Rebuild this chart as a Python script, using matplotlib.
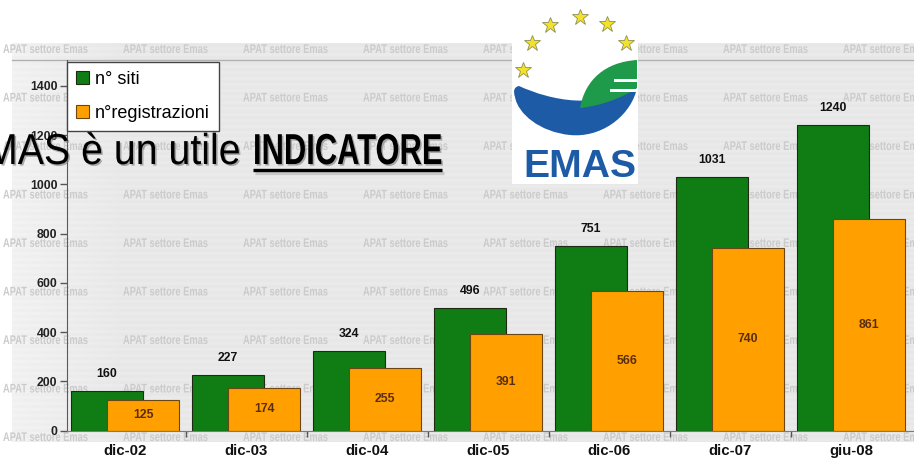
import numpy as np
import matplotlib

matplotlib.use("Agg")
import matplotlib.pyplot as plt  # noqa: E402
import matplotlib.patheffects as pe  # noqa: E402
from matplotlib.colors import to_rgb  # noqa: E402
from matplotlib.patches import Rectangle, PathPatch  # noqa: E402
from matplotlib.path import Path  # noqa: E402
from matplotlib.transforms import Affine2D  # noqa: E402

categories = ["dic-02", "dic-03", "dic-04", "dic-05", "dic-06", "dic-07", "giu-08"]
siti = [160, 227, 324, 496, 751, 1031, 1240]
registrazioni = [125, 174, 255, 391, 566, 740, 861]
y_ticks = [0, 200, 400, 600, 800, 1000, 1200, 1400]
legend_labels = ["n° siti", "n°registrazioni"]
watermark = "APAT settore Emas"
headline = ["MAS è un utile", "INDICATORE"]
logo_word = "EMAS"

W, H = 914, 461
plt.rcParams["font.family"] = ["Liberation Sans", "DejaVu Sans"]

fig = plt.figure(figsize=(W / 100, H / 100), dpi=100)
fig.patch.set_facecolor("white")
renderer = fig.canvas.get_renderer()


class Stretch(pe.AbstractPathEffect):
    """Scale glyphs about a point given in figure pixels (top-left origin), optional drop shadow."""

    def __init__(self, x0, y0, sx=1.0, sy=1.0, shadow=None):
        super().__init__()
        y0 = H - y0
        self._t = Affine2D().translate(-x0, -y0).scale(sx, sy).translate(x0, y0)
        self._shadow = shadow

    def draw_path(self, renderer, gc, tpath, affine, rgbFace=None):
        t = affine + self._t
        if self._shadow is not None:
            gc0 = renderer.new_gc()
            gc0.copy_properties(gc)
            gc0.set_alpha(0.6)
            renderer.draw_path(gc0, tpath, t + Affine2D().translate(1.6, -1.6), to_rgb(self._shadow))
            gc0.restore()
        renderer.draw_path(gc, tpath, t, rgbFace)


def pixel_axes(z):
    a = fig.add_axes([0, 0, 1, 1], zorder=z)
    a.set_xlim(0, W)
    a.set_ylim(H, 0)
    a.axis("off")
    a.patch.set_visible(False)
    return a


def fit_text(a, x0, x1, y, s, cap=None, shadow=None, **kw):
    t = a.text(x0, y, s, fontsize=20, ha="left", va="baseline", **kw)
    w = t.get_window_extent(renderer).width
    fs = 20 * (x1 - x0) / w
    t.set_fontsize(fs)
    if cap is not None:
        sy = cap / (0.716 * fs * 100 / 72)
        t.set_path_effects([Stretch(x0, y, 1.0, sy, shadow)])
    return t


# background panel with watermark
bg = pixel_axes(0)
rows = np.arange(44, 442)
cols = np.arange(12, W)
shade = 0.915 + 0.035 * np.clip(1 - (cols - 12) / 110.0, 0, 1)
img = shade[None, :] - 0.01 * ((rows // 3) % 2)[:, None]
bg.imshow(img, cmap="gray", vmin=0, vmax=1, extent=(12, W, 442, 44),
          aspect="auto", interpolation="nearest")
panel = Rectangle((12, 44), W - 12, 398, transform=bg.transData, fill=False, lw=0)
bg.add_patch(panel)
for yy in np.arange(49, 445, 48.5):
    for xx in np.arange(3, W, 120):
        t = bg.text(xx, yy + 4, watermark, fontsize=6.7, color="#cbcbcb", fontweight="bold",
                    ha="left", va="baseline",
                    path_effects=[Stretch(xx, yy + 4, 1.0, 1.35)])
        t.set_clip_path(panel)
bg.plot([12, W], [60, 60], color="#b0b0b0", lw=1)

# chart
ax = fig.add_axes([67 / W, (H - 430.5) / H, 1 - 67 / W, (430.5 - 60) / H], zorder=1)
ax.patch.set_visible(False)
x = np.arange(len(categories))
b1 = ax.bar(x - 0.15, siti, 0.59, color="#0f7d14", edgecolor="#1e2a14", lw=0.8,
            label=legend_labels[0])
b2 = ax.bar(x + 0.15, registrazioni, 0.59, color="#ffa000", edgecolor="#6b4512", lw=0.8,
            label=legend_labels[1])
ax.bar_label(b1, padding=8, fontsize=8.8, fontweight="bold", color="#111111")
ax.bar_label(b2, label_type="center", fontsize=8.8, fontweight="bold", color="#5a2d0c")

ax.set_xlim(-58 / 121, 789 / 121)
ax.set_ylim(0, 1505)
ax.set_yticks(y_ticks)
ax.set_yticklabels([str(v) for v in y_ticks], fontsize=8.8, fontweight="bold", color="#222222")
ax.tick_params(axis="y", length=5, width=1, color="#555555", pad=2)
ax.set_xticks(x)
ax.set_xticklabels(categories, fontsize=10.8, fontweight="bold", color="#111111")
ax.set_xticks(x[:-1] + 0.5, minor=True)
ax.tick_params(axis="x", which="major", length=0, pad=10)
ax.tick_params(axis="x", which="minor", length=4, width=1, color="#555555")
for side in ("top", "right"):
    ax.spines[side].set_visible(False)
ax.spines["left"].set_color("#5a5a5a")
ax.spines["bottom"].set_color("#7a7a7a")

leg = ax.legend(loc="upper left", bbox_to_anchor=(0, 0.995), borderaxespad=0, fancybox=False,
                edgecolor="#444444", framealpha=1, fontsize=13, handlelength=0.7,
                handleheight=0.7, handletextpad=0.35, labelspacing=0.95, borderpad=0.5)
leg.get_frame().set_linewidth(1)

# overlay: logo and headline
top = pixel_axes(3)
top.add_patch(Rectangle((512, 0), 126, 184, color="white", lw=0))
stars_x = [580, 550, 607, 532, 626, 523]
stars_y = [17, 25, 24, 43, 43, 70]
top.plot(stars_x, stars_y, ls="none", marker="*", markersize=12,
         markerfacecolor="#f2e22c", markeredgecolor="#8f8f55", markeredgewidth=0.6)

C = Path.CURVE4
blue = Path([(519, 86), (550, 100), (600, 112), (636, 82),
             (636, 92), (628, 118), (600, 138), (570, 135),
             (540, 132), (518, 114), (515, 97),
             (513, 91), (514, 87), (519, 86), (519, 86)],
            [Path.MOVETO, C, C, C, Path.LINETO, C, C, C, C, C, C, C, C, C, Path.CLOSEPOLY])
top.add_patch(PathPatch(blue, facecolor="#1d5ba6", lw=0))
leaf = Path([(580, 108), (585, 80), (605, 62), (637, 60),
             (637, 88), (622, 98), (600, 106), (580, 108), (580, 108)],
            [Path.MOVETO, C, C, C, Path.LINETO, C, C, C, Path.CLOSEPOLY])
top.add_patch(PathPatch(leaf, facecolor="#1f9a4a", lw=0))
top.add_patch(Rectangle((614, 79), 24, 3, color="white", lw=0))
top.add_patch(Rectangle((610, 89), 28, 3, color="white", lw=0))
fit_text(top, 523, 636, 177, logo_word, fontweight="bold", color="#1d5ba6")

fit_text(top, -15, 240, 164, headline[0], cap=31, shadow="#7a7a7a", color="black")
fit_text(top, 253, 442, 164, headline[1], cap=31, shadow="#7a7a7a", fontweight="bold",
         color="black")
top.plot([253, 442], [170.5, 170.5], color="black", lw=2.4, solid_capstyle="butt",
         path_effects=[pe.SimpleLineShadow(offset=(1.5, -1.5), shadow_color="#7a7a7a"),
                       pe.Normal()])

fig.savefig("out.png", dpi=100)
